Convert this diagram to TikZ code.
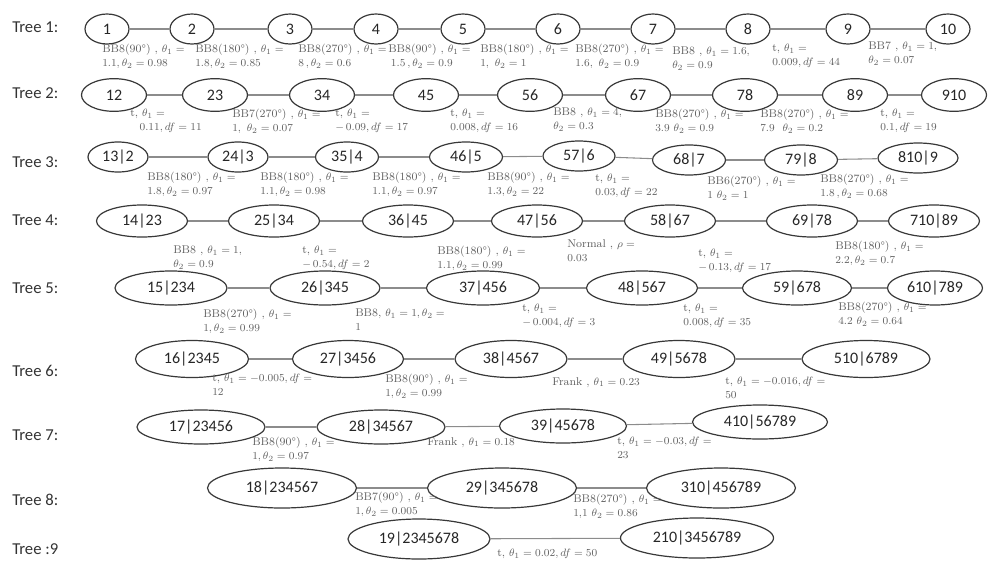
\documentclass[tikz,border=0pt]{standalone}
\usepackage{fontspec}
\newfontfamily\calibri{Carlito}
\usetikzlibrary{shapes.geometric}

\tikzset{
    cop/.style={ellipse, draw=black!78, line width=0.9pt, inner sep=0pt,
        minimum width=33pt, minimum height=22.5pt, text=black!85,
        font=\calibri\fontsize{12}{14}\selectfont},
    link/.style={draw=black!45, line width=0.8pt},
    lab/.style={anchor=north west, align=left, inner sep=0pt, text=black!62,
        font=\fontsize{8.4}{10.5}\selectfont},
    treelab/.style={anchor=west, inner sep=0pt, text=black!80,
        font=\calibri\fontsize{12.5}{14}\selectfont}
}

\begin{document}
\begin{tikzpicture}[x=0.75pt, y=-0.75pt]

    % Page frame
    \useasboundingbox (0,0) rectangle (988,561);

    % Tree labels
    \foreach \k/\y in {1/27, 2/93, 3/162, 4/220, 5/288, 6/371, 7/435, 8/500}
        \node[treelab] (tree\k) at (12,\y) {Tree \k:};
    \node[treelab] (tree9) at (12,549) {Tree :9};

    % Tree 1
    \foreach \i/\x in {1/107, 2/192, 3/290, 4/376, 5/463, 6/558, 7/653, 8/748, 9/848, 10/948}
        \node[cop] (t1n\i) at (\x,29) {\i};
    \foreach \i [remember=\i as \j (initially 1)] in {2,...,10}
        \draw[link] (t1n\j) -- (t1n\i);
    \node[lab] (t1e1) at (102,44) {BB8(90°) , $\theta_1 =$\\$1.1, \theta_2 = 0.98$};
    \node[lab] (t1e2) at (195,44) {BB8(180°) , $\theta_1 =$\\$1.8, \theta_2 = 0.85$};
    \node[lab] (t1e3) at (298,44) {BB8(270°) , $\theta_1 =$\\$8\,, \theta_2 = 0.6$};
    \node[lab] (t1e4) at (388,44) {BB8(90°) , $\theta_1 =$\\\hspace*{2pt}$1.5\,, \theta_2 = 0.9$};
    \node[lab] (t1e5) at (480,44) {BB8(180°) , $\theta_1 =$\\$1,\ \theta_2 = 1$};
    \node[lab] (t1e6) at (575,44) {BB8(270°) , $\theta_1 =$\\$1.6,\ \theta_2 = 0.9$};
    \node[lab] (t1e7) at (672,47) {BB8 , $\theta_1 = 1.6,$\\$\theta_2 = 0.9$};
    \node[lab] (t1e8) at (772,44) {t, $\theta_1 =$\\$0.009, df = 44$};
    \node[lab] (t1e9) at (868,42) {BB7 , $\theta_1 = 1,$\\$\theta_2 = 0.07$};

    % Tree 2
    \foreach \i/\x/\txt in {1/114/12, 2/215/23, 3/322/34, 4/426/45, 5/530/56,
                            6/638/67, 7/745/78, 8/855/89, 9/954/910}
        \node[cop, minimum width=48.75pt, minimum height=24.5pt] (t2n\i) at (\x,95) {\txt};
    \foreach \i [remember=\i as \j (initially 1)] in {2,...,9}
        \draw[link] (t2n\j) -- (t2n\i);
    \node[lab] (t2e1) at (130,109) {t, $\theta_1 =$\\\hspace*{7pt}$0.11, df = 11$};
    \node[lab] (t2e2) at (232,109) {BB7(270°) , $\theta_1 =$\\$1,\ \theta_2 = 0.07$};
    \node[lab] (t2e3) at (335,109) {t, $\theta_1 =$\\$-\,0.09, df = 17$};
    \node[lab] (t2e4) at (450,109) {t, $\theta_1 =$\\$0.008, df = 16$};
    \node[lab] (t2e5) at (553,108) {BB8 , $\theta_1 = 4,$\\$\theta_2 = 0.3$};
    \node[lab] (t2e6) at (655,109) {BB8(270°) , $\theta_1 =$\\$3.9\ \theta_2 = 0.9$};
    \node[lab] (t2e7) at (760,109) {BB8(270°) , $\theta_1 =$\\$7.9\ \ \theta_2 = 0.2$};
    \node[lab] (t2e8) at (880,109) {t, $\theta_1 =$\\$0.1, df = 19$};

    % Tree 3
    \foreach \i/\x/\y/\w/\txt in {1/118/157/60/13|2, 2/238/157/60/24|3, 3/347/157/63/35|4,
                                  4/466/157/73/46|5, 5/579/156/72/57|6, 6/689/160/73/68|7,
                                  7/801/160/73/79|8, 8/918/158/80/810|9}
        \node[cop, minimum width=\w*0.75pt] (t3n\i) at (\x,\y) {\txt};
    \foreach \i [remember=\i as \j (initially 1)] in {2,...,8}
        \draw[link] (t3n\j) -- (t3n\i);
    \node[lab] (t3e1) at (147,172) {BB8(180°) , $\theta_1 =$\\$1.8, \theta_2 = 0.97$};
    \node[lab] (t3e2) at (260,172) {BB8(180°) , $\theta_1 =$\\$1.1, \theta_2 = 0.98$};
    \node[lab] (t3e3) at (372,172) {BB8(180°) , $\theta_1 =$\\$1.1, \theta_2 = 0.97$};
    \node[lab] (t3e4) at (487,172) {BB8(90°) , $\theta_1 =$\\$1.3, \theta_2 = 22$};
    \node[lab] (t3e5) at (595,174) {t, $\theta_1 =$\\$0.03, df = 22$};
    \node[lab] (t3e6) at (707,176) {BB6(270°) , $\theta_1 =$\\$1\ \theta_2 = 1$};
    \node[lab] (t3e7) at (820,174) {BB8(270°) , $\theta_1 =$\\$1.8\,, \theta_2 = 0.68$};

    % Tree 4
    \foreach \i/\x/\txt in {1/142/14|23, 2/274/25|34, 3/408/36|45, 4/537/47|56,
                            5/670/58|67, 6/812/69|78, 7/934/710|89}
        \node[cop, minimum width=68.25pt, minimum height=24pt] (t4n\i) at (\x,221) {\txt};
    \foreach \i [remember=\i as \j (initially 1)] in {2,...,7}
        \draw[link] (t4n\j) -- (t4n\i);
    \node[lab] (t4e1) at (173,246) {BB8 , $\theta_1 = 1,$\\$\theta_2 = 0.9$};
    \node[lab] (t4e2) at (302,246) {t, $\theta_1 =$\\$-\,0.54, df = 2$};
    \node[lab] (t4e3) at (437,246) {BB8(180°) , $\theta_1 =$\\$1.1, \theta_2 = 0.99$};
    \node[lab] (t4e4) at (567,239) {Normal , $\rho =$\\$0.03$};
    \node[lab] (t4e5) at (698,249) {t, $\theta_1 =$\\$-\,0.13, df = 17$};
    \node[lab] (t4e6) at (835,241) {BB8(180°) , $\theta_1 =$\\$2.2, \theta_2 = 0.7$};

    % Tree 5
    \foreach \i/\x/\w/\txt in {1/171/112/15|234, 2/325/110/26|345, 3/483/113/37|456,
                               4/642/111/48|567, 5/797/109/59|678, 6/935/95/610|789}
        \node[cop, minimum width=\w*0.75pt, minimum height=25.5pt] (t5n\i) at (\x,288) {\txt};
    \foreach \i [remember=\i as \j (initially 1)] in {2,...,6}
        \draw[link] (t5n\j) -- (t5n\i);
    \node[lab] (t5e1) at (203,309) {BB8(270°) , $\theta_1 =$\\$1, \theta_2 = 0.99$};
    \node[lab] (t5e2) at (355,309) {BB8, $\theta_1 = 1, \theta_2 =$\\$1$};
    \node[lab] (t5e3) at (522,304) {t, $\theta_1 =$\\$-\,0.004, df = 3$};
    \node[lab] (t5e4) at (683,304) {t, $\theta_1 =$\\$0.008, df = 35$};
    \node[lab] (t5e5) at (838,302) {BB8(270°) , $\theta_1 =$\\$4.2\ \theta_2 = 0.64$};

    % Tree 6
    \foreach \i/\x/\w/\txt in {1/192/113/16|2345, 2/348/111/27|3456, 3/511/112/38|4567,
                               4/679/112/49|5678, 5/866/128/510|6789}
        \node[cop, minimum width=\w*0.75pt, minimum height=27.75pt] (t6n\i) at (\x,359) {\txt};
    \foreach \i [remember=\i as \j (initially 1)] in {2,...,5}
        \draw[link] (t6n\j) -- (t6n\i);
    \node[lab] (t6e1) at (212,374) {t, $\theta_1 = -0.005, df =$\\$12$};
    \node[lab] (t6e2) at (385,374) {BB8(90°) , $\theta_1 =$\\$1, \theta_2 = 0.99$};
    \node[lab] (t6e3) at (552,377) {Frank , $\theta_1 = 0.23$};
    \node[lab] (t6e4) at (725,377) {t, $\theta_1 = -0.016, df =$\\$50$};

    % Tree 7
    \foreach \i/\x/\y/\w/\txt in {1/201/427/128/17|23456, 2/381/427/128/28|34567,
                                  3/563/426/127/39|45678, 4/760/422/135/410|56789}
        \node[cop, minimum width=\w*0.75pt, minimum height=25.5pt] (t7n\i) at (\x,\y) {\txt};
    \foreach \i [remember=\i as \j (initially 1)] in {2,...,4}
        \draw[link] (t7n\j) -- (t7n\i);
    \node[lab] (t7e1) at (252,437) {BB8(90°) , $\theta_1 =$\\$1, \theta_2 = 0.97$};
    \node[lab] (t7e2) at (427,437) {Frank , $\theta_1 = 0.18$};
    \node[lab] (t7e3) at (617,437) {t, $\theta_1 = -0.03, df =$\\$23$};

    % Tree 8
    \foreach \i/\x/\txt in {1/282/18|234567, 2/502/29|345678, 3/721/310|456789}
        \node[cop, minimum width=111.75pt, minimum height=30pt] (t8n\i) at (\x,488) {\txt};
    \foreach \i [remember=\i as \j (initially 1)] in {2,3}
        \draw[link] (t8n\j) -- (t8n\i);
    \node[lab] (t8e1) at (355,492) {BB7(90°) , $\theta_1 =$\\$1, \theta_2 = 0.005$};
    \node[lab] (t8e2) at (573,494) {BB8(270°) , $\theta_1 =$\\$1{,}1\ \theta_2 = 0.86$};

    % Tree 9
    \node[cop, minimum width=106.5pt, minimum height=30pt] (t9n1) at (419,539) {19|2345678};
    \node[cop, minimum width=114.75pt, minimum height=30pt] (t9n2) at (697,538) {210|3456789};
    \draw[link] (t9n1) -- (t9n2);
    \node[lab] (t9e1) at (497,549) {t, $\theta_1 = 0.02, df = 50$};

\end{tikzpicture}
\end{document}
